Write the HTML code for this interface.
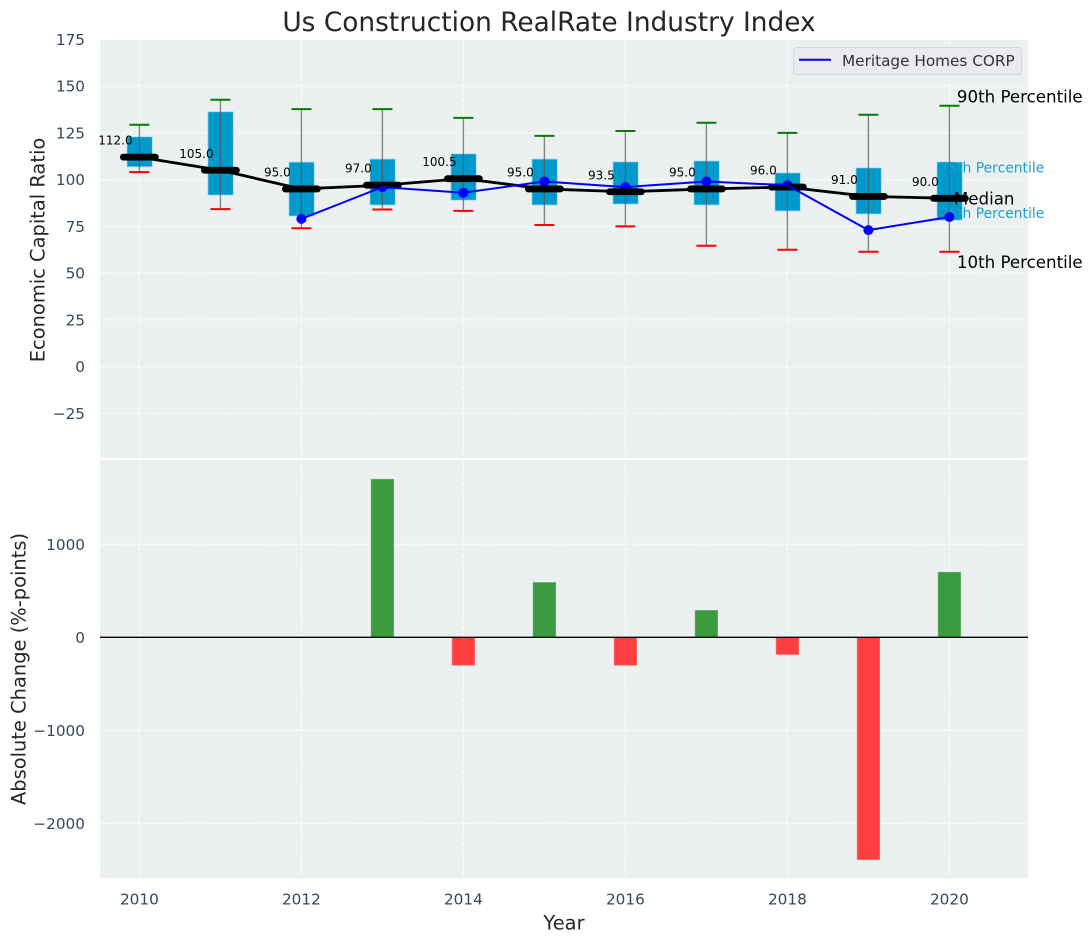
<!DOCTYPE html>
<html>
<head>
<meta charset="utf-8">
<title>Us Construction RealRate Industry Index</title>
<style>
html,body{margin:0;padding:0;background:#fff}
svg{display:block;font-family:"DejaVu Sans","Liberation Sans",sans-serif}
</style>
</head>
<body>
<svg id="chart" width="1092" height="942" viewBox="0 0 1092 942" xmlns="http://www.w3.org/2000/svg"></svg>
<script>
const years = [2010,2011,2012,2013,2014,2015,2016,2017,2018,2019,2020];
const p90 = [129.3,142.7,137.7,137.7,133,123.4,126,130.4,125,134.7,139.5];
const p75 = [122.9,136.3,109.4,111,113.8,111,109.5,110,103.6,106.3,109.4];
const medians = [112,105,95,97,100.5,95,93.5,95,96,91,90];
const p25 = [106.8,91.7,80.5,86.4,89,86.4,86.9,86.4,83.2,81.6,78.3];
const p10 = [104,84.2,74,84,83.3,75.7,75,64.6,62.5,61.4,61.4];
const company = [null,null,79,96,93,99,96,99,97,73,80];
const changes = [null,null,null,1700,-300,590,-300,290,-185,-2390,700];
const xTicks = [2010,2012,2014,2016,2018,2020];
const topTicks = [175,150,125,100,75,50,25,0,-25];
const bottomTicks = [1000,0,-1000,-2000];

const NS = 'http://www.w3.org/2000/svg';
const svg = document.getElementById('chart');
const xScale = v => 139.4 + (v - 2010) * 81;
const yTop = v => 366.6 - 1.87 * v;
const yBottom = v => 637.3 - 0.093 * v;
const fmt = v => String(v).replace('-', '\u2212');

function make(tag, attrs, text) {
  const el = document.createElementNS(NS, tag);
  for (const k in attrs) el.setAttribute(k, attrs[k]);
  if (text !== undefined) el.textContent = text;
  svg.appendChild(el);
  return el;
}
let el;

// panels
el = make('rect', {x:100, y:40, width:928, height:418, fill:'#ecf0f1'});


el = make('rect', {x:100, y:460, width:928, height:418, fill:'#ecf0f1'});



// grid
const gridStyle = {stroke:'#ffffff', 'stroke-width':1.1, 'stroke-dasharray':'5 2.2', 'stroke-opacity':0.85};
xTicks.forEach(t => {
  el = make('line', {x1:xScale(t), x2:xScale(t), y1:40, y2:458, ...gridStyle});
  
  
  el = make('line', {x1:xScale(t), x2:xScale(t), y1:460, y2:878, ...gridStyle});
  
  
  el = make('text', {x:xScale(t), y:904.5, 'text-anchor':'middle', 'font-size':15.28, fill:'#34495e'}, t);
  
  
});
topTicks.forEach(t => {
  el = make('line', {x1:100, x2:1028, y1:yTop(t), y2:yTop(t), ...gridStyle});
  
  
  el = make('text', {x:85, y:yTop(t)+5.5, 'text-anchor':'end', 'font-size':15.28, fill:'#34495e'}, fmt(t));
  
  
});
bottomTicks.forEach(t => {
  el = make('line', {x1:100, x2:1028, y1:yBottom(t), y2:yBottom(t), ...gridStyle});
  
  
  el = make('text', {x:85, y:yBottom(t)+5.5, 'text-anchor':'end', 'font-size':15.28, fill:'#34495e'}, fmt(t));
  
  
});

const last = years.length - 1;

// boxes and whiskers
years.forEach((y, i) => {
  const cx = xScale(y);
  el = make('rect', {x:cx-12.5, y:yTop(p75[i]), width:25.4, height:yTop(p25[i])-yTop(p75[i]), fill:'#0099cc', stroke:'#a8dcef', 'stroke-width':0.8});
  
  
  el = make('line', {x1:cx, x2:cx, y1:yTop(p90[i]), y2:yTop(p10[i]), stroke:'#555', 'stroke-opacity':0.7, 'stroke-width':1.4});
  
  
  el = make('line', {x1:cx-10, x2:cx+10, y1:yTop(p90[i]), y2:yTop(p90[i]), stroke:'#008000', 'stroke-width':2});
  
  
  el = make('line', {x1:cx-10, x2:cx+10, y1:yTop(p10[i]), y2:yTop(p10[i]), stroke:'#ff0000', 'stroke-width':2});
  
  
});

// percentile labels overlap the last box in nearly the same colour
el = make('text', {x:xScale(years[last])-10, y:yTop(p75[last])+10.5, 'font-size':13.9, fill:'#1a9fd0'}, '75th Percentile');


el = make('text', {x:xScale(years[last])-10, y:yTop(p25[last])-2.2, 'font-size':13.9, fill:'#1a9fd0'}, '25th Percentile');



// company markers
years.forEach((y, i) => {
  if (company[i] === null) return;
  el = make('circle', {cx:xScale(y), cy:yTop(company[i]), r:5, fill:'#0000ff'});
  
  
});

// annotations
el = make('text', {x:xScale(years[last])+4.5, y:yTop(medians[last])+6, 'font-size':16.67, fill:'#000'}, 'Median');


el = make('text', {x:xScale(years[last])+7.5, y:yTop(p90[last])-3, 'font-size':16.67, fill:'#000'}, '90th Percentile');


el = make('text', {x:xScale(years[last])+7.5, y:yTop(p10[last])+16, 'font-size':16.67, fill:'#000'}, '10th Percentile');



// median line and ticks
el = make('polyline', {points:years.map((y,i)=>xScale(y)+','+yTop(medians[i])).join(' '), fill:'none', stroke:'#000', 'stroke-width':2.8, 'stroke-linejoin':'round'});


years.forEach((y, i) => {
  const cx = xScale(y);
  el = make('line', {x1:cx-16, x2:cx+16, y1:yTop(medians[i]), y2:yTop(medians[i]), stroke:'#000', 'stroke-width':6.8, 'stroke-linecap':'round'});
  
  
  el = make('text', {x:cx-24, y:yTop(medians[i])-12.5, 'text-anchor':'middle', 'font-size':12, fill:'#000'}, medians[i].toFixed(1));
  
  
});

// company line
const compPts = years.map((y,i)=>company[i]===null?null:xScale(y)+','+yTop(company[i])).filter(Boolean).join(' ');
el = make('polyline', {points:compPts, fill:'none', stroke:'#0000ff', 'stroke-width':2, 'stroke-linejoin':'round'});



// change bars
years.forEach((y, i) => {
  if (changes[i] === null) return;
  const v = changes[i];
  const top = Math.min(yBottom(v), yBottom(0));
  const h = Math.abs(yBottom(v) - yBottom(0));
  el = make('rect', {x:xScale(y)-11.3, y:top, width:22.6, height:h, fill:v>=0?'#3a9c3f':'#ff3f3f', stroke:v>=0?'#6db570':'#ff7070', 'stroke-width':0.6});
  
  
});
el = make('line', {x1:100, x2:1028, y1:yBottom(0), y2:yBottom(0), stroke:'#000', 'stroke-width':1.4});



// legend
el = make('rect', {x:793.5, y:47.5, width:228, height:27, rx:3, fill:'#e9ebf0', stroke:'#d5d8dc', 'stroke-width':1});


el = make('line', {x1:799, x2:831, y1:59.7, y2:59.7, stroke:'#0000ff', 'stroke-width':2});


el = make('text', {x:842, y:66, 'font-size':15.28, fill:'#333'}, 'Meritage Homes CORP');



// titles
el = make('text', {x:549, y:31, 'text-anchor':'middle', 'font-size':26.4, fill:'#262626'}, 'Us Construction RealRate Industry Index');


el = make('text', {x:564, y:929.5, 'text-anchor':'middle', 'font-size':19.44, fill:'#262626'}, 'Year');


el = make('text', {x:0, y:0, transform:'translate(44.5 250) rotate(-90)', 'text-anchor':'middle', 'font-size':19.44, fill:'#262626'}, 'Economic Capital Ratio');


el = make('text', {x:0, y:0, transform:'translate(25.5 669) rotate(-90)', 'text-anchor':'middle', 'font-size':19.44, fill:'#262626'}, 'Absolute Change (%-points)');


</script>
</body>
</html>
